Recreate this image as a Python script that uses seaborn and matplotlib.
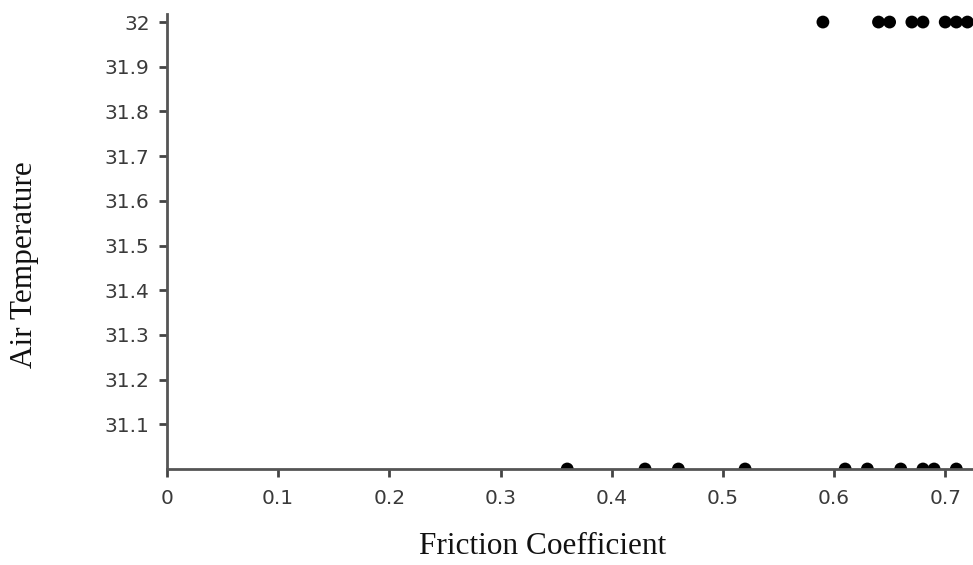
import matplotlib
matplotlib.use("Agg")
import matplotlib.pyplot as plt
import seaborn as sns
import pandas as pd

friction_low = [0.36, 0.43, 0.46, 0.52, 0.61, 0.63, 0.66, 0.68, 0.69, 0.71]
temp_low = [31.0] * len(friction_low)
friction_high = [0.59, 0.64, 0.65, 0.67, 0.68, 0.70, 0.71, 0.72]
temp_high = [32.0] * len(friction_high)

x_ticks = [0, 0.1, 0.2, 0.3, 0.4, 0.5, 0.6, 0.7]
x_tick_labels = ["0", "0.1", "0.2", "0.3", "0.4", "0.5", "0.6", "0.7"]
y_ticks = [31.1, 31.2, 31.3, 31.4, 31.5, 31.6, 31.7, 31.8, 31.9, 32.0]
y_tick_labels = ["31.1", "31.2", "31.3", "31.4", "31.5", "31.6", "31.7", "31.8", "31.9", "32"]

df = pd.DataFrame({
    "Friction Coefficient": friction_low + friction_high,
    "Air Temperature": temp_low + temp_high,
})

sns.set_style("white")
fig = plt.figure(figsize=(9.73, 5.65), dpi=100)
ax = fig.add_axes([167 / 973, (565 - 469) / 565, 1 - 167 / 973, (469 - 14) / 565])

sns.scatterplot(data=df, x="Friction Coefficient", y="Air Temperature", ax=ax,
                color="black", s=85, edgecolor="none", clip_on=True)

ax.set_xlim(0, 0.725)
ax.set_ylim(31.0, 32.018)
ax.set_xticks(x_ticks)
ax.set_xticklabels(x_tick_labels)
ax.set_yticks(y_ticks)
ax.set_yticklabels(y_tick_labels)

for side in ["top", "right"]:
    ax.spines[side].set_visible(False)
for side in ["left", "bottom"]:
    ax.spines[side].set_color("#555555")
    ax.spines[side].set_linewidth(2)

ax.tick_params(axis="both", direction="out", length=5.5, width=2, color="#444444",
               labelsize=14.5, labelcolor="#3a3a3a", left=True, bottom=True)
ax.tick_params(axis="x", pad=9)
ax.tick_params(axis="y", pad=7)
ax.set_xlabel("")
ax.set_ylabel("")

fig.text(543 / 973, 1 - 546 / 565, "Friction Coefficient", ha="center", va="center",
         fontsize=22.5, family="Liberation Serif", color="#111111")
fig.text(25 / 973, 1 - 265 / 565, "Air Temperature", ha="center", va="center",
         rotation=90, fontsize=22.5, family="Liberation Serif", color="#111111")

fig.savefig("out.png", dpi=100)
